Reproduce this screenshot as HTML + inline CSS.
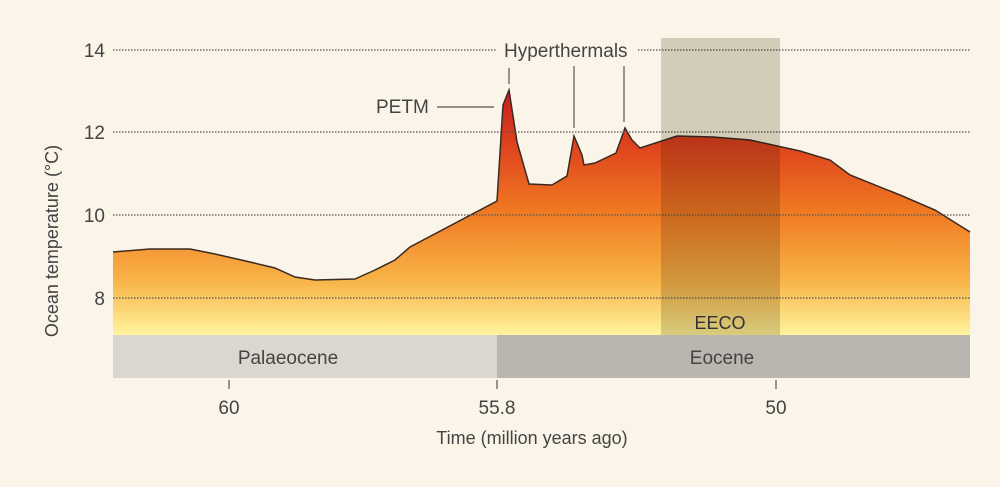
<!DOCTYPE html>
<html><head><meta charset="utf-8"><style>
body{margin:0;background:#faf5e8;}
svg{display:block;font-family:"Liberation Sans",sans-serif;}
</style></head><body>
<svg width="1000" height="487" viewBox="0 0 1000 487">
<rect width="1000" height="487" fill="#faf5e8"/>
<defs>
<linearGradient id="g" x1="0" y1="90" x2="0" y2="335" gradientUnits="userSpaceOnUse">
<stop offset="0" stop-color="#c41e1e"/>
<stop offset="0.25" stop-color="#e0481e"/>
<stop offset="0.5" stop-color="#f07a22"/>
<stop offset="0.78" stop-color="#f8b448"/>
<stop offset="1" stop-color="#fff49e"/>
</linearGradient>
</defs>
<path d="M113,252 L150,249 L190,249 L215,254 L250,262 L275,268 L295,277 L315,280 L355,279 L375,270 L395,260 L410,247 L497,201 L503,105 L509,90 L517,142 L529,184 L552,185 L567,176 L574,136 L582,155 L584,165 L595,163 L616,153 L625,128 L632,140 L640,148 L677,136 L713,137 L750,140 L800,151 L830,160 L850,175 L900,195 L935,210 L970,232 L970,335 L113,335 Z" fill="url(#g)"/>
<path d="M113,252 L150,249 L190,249 L215,254 L250,262 L275,268 L295,277 L315,280 L355,279 L375,270 L395,260 L410,247 L497,201 L503,105 L509,90 L517,142 L529,184 L552,185 L567,176 L574,136 L582,155 L584,165 L595,163 L616,153 L625,128 L632,140 L640,148 L677,136 L713,137 L750,140 L800,151 L830,160 L850,175 L900,195 L935,210 L970,232" fill="none" stroke="#3a2a22" stroke-width="1.5"/>
<g stroke="#555" stroke-width="1.2" stroke-dasharray="1.5,1.5">
<line x1="113" y1="50" x2="497" y2="50"/>
<line x1="638" y1="50" x2="970" y2="50"/>
<line x1="113" y1="132" x2="970" y2="132"/>
<line x1="113" y1="215" x2="970" y2="215"/>
<line x1="113" y1="298" x2="970" y2="298"/>
</g>
<rect x="661" y="38" width="119" height="297" fill="#d8d5cc" style="mix-blend-mode:multiply"/>
<rect x="113" y="335" width="384" height="43" fill="#dbd7ce"/>
<rect x="497" y="335" width="473" height="43" fill="#b8b6af"/>
<g stroke="#555" stroke-width="1.2">
<line x1="509" y1="68" x2="509" y2="84"/>
<line x1="574" y1="66" x2="574" y2="128"/>
<line x1="624" y1="66" x2="624" y2="122"/>
<line x1="437" y1="107" x2="494" y2="107"/>
<line x1="229" y1="380" x2="229" y2="389"/>
<line x1="497" y1="380" x2="497" y2="389"/>
<line x1="776" y1="380" x2="776" y2="389"/>
</g>
<g fill="#444" font-size="19">
<text x="504" y="57">Hyperthermals</text>
<text x="376" y="113">PETM</text>
<text x="720" y="329" text-anchor="middle" fill="#333" font-size="18">EECO</text>
<text x="288" y="364" text-anchor="middle">Palaeocene</text>
<text x="722" y="364" text-anchor="middle">Eocene</text>
<text x="229" y="414" text-anchor="middle">60</text>
<text x="497" y="414" text-anchor="middle">55.8</text>
<text x="776" y="414" text-anchor="middle">50</text>
<text x="532" y="444" text-anchor="middle" font-size="18">Time (million years ago)</text>
<text x="105" y="57" text-anchor="end">14</text>
<text x="105" y="139" text-anchor="end">12</text>
<text x="105" y="222" text-anchor="end">10</text>
<text x="105" y="305" text-anchor="end">8</text>
<text transform="translate(58,241) rotate(-90)" text-anchor="middle" font-size="18">Ocean temperature (°C)</text>
</g>
</svg>
</body></html>
